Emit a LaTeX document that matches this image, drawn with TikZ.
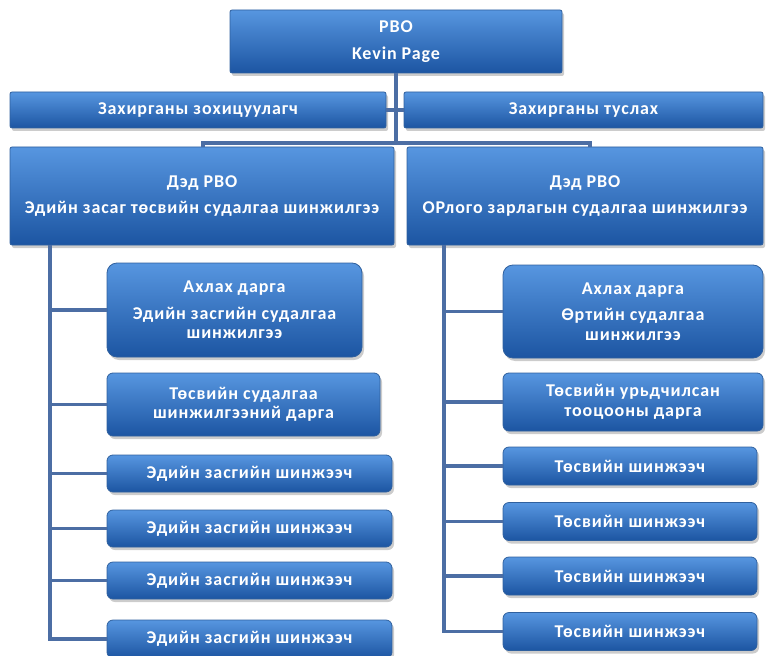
\documentclass[tikz,border=0pt]{standalone}
\usepackage{fontspec}
\setmainfont{Carlito}
\usetikzlibrary{shadows}
\definecolor{btop}{HTML}{5796E0}
\definecolor{bbot}{HTML}{1C55A2}
\definecolor{bdraw}{HTML}{2F609E}
\definecolor{connc}{HTML}{4C6EA4}
\begin{document}
\begin{tikzpicture}[x=1pt,y=-1pt,
  box/.style={draw=bdraw, line width=0.8pt, top color=btop, bottom color=bbot,
    text=white, font=\fontsize{18}{19.5}\selectfont\bfseries\addfontfeatures{LetterSpace=5},
    align=center, inner sep=0pt, rounded corners=2pt,
    drop shadow={shadow xshift=2pt, shadow yshift=-3pt, opacity=0.4}},
  cbox/.style={box, rounded corners=6pt},
  bigc/.style={box, rounded corners=10pt},
  conn/.style={draw=connc, line width=3.2pt}]
\useasboundingbox (0,0) rectangle (767,655);
% top
\node[box, minimum width=332pt, minimum height=63pt] (pbo) at (396,41.5) {PBO\\[7pt]Kevin Page};
\node[box, minimum width=376pt, minimum height=36pt] (adm1) at (198,110) {Захирганы зохицуулагч};
\node[box, minimum width=359pt, minimum height=36pt] (adm2) at (583.5,110) {Захирганы туслах};
\node[box, minimum width=384pt, minimum height=98pt] (ded1) at (202,196) {Дэд PBO\\[7pt]Эдийн засаг төсвийн судалгаа шинжилгээ};
\node[box, minimum width=356pt, minimum height=98pt] (ded2) at (585,196) {Дэд PBO\\[7pt]ОРлого зарлагын судалгаа шинжилгээ};
% left children
\node[bigc, minimum width=255pt, minimum height=94pt] (l1) at (234.5,310) {Ахлах дарга\\[7pt]Эдийн засгийн судалгаа\\шинжилгээ};
\node[cbox, minimum width=273pt, minimum height=63pt] (l2) at (243.5,404.5) {Төсвийн судалгаа\\шинжилгээний дарга};
\node[cbox, minimum width=285pt, minimum height=37pt] (l3) at (249.5,473.5) {Эдийн засгийн шинжээч};
\node[cbox, minimum width=285pt, minimum height=37pt] (l4) at (249.5,528.5) {Эдийн засгийн шинжээч};
\node[cbox, minimum width=285pt, minimum height=37pt] (l5) at (249.5,580.5) {Эдийн засгийн шинжээч};
\node[cbox, minimum width=285pt, minimum height=38pt] (l6) at (249.5,639) {Эдийн засгийн шинжээч};
% right children
\node[bigc, minimum width=260pt, minimum height=93pt] (r1) at (633,311.5) {Ахлах дарга\\[7pt]Өртийн судалгаа\\шинжилгээ};
\node[cbox, minimum width=260pt, minimum height=58pt] (r2) at (633,402) {Төсвийн урьдчилсан\\тооцооны дарга};
\node[cbox, minimum width=254pt, minimum height=38pt] (r3) at (630,466) {Төсвийн шинжээч};
\node[cbox, minimum width=254pt, minimum height=38pt] (r4) at (630,521.5) {Төсвийн шинжээч};
\node[cbox, minimum width=254pt, minimum height=38pt] (r5) at (630,576) {Төсвийн шинжээч};
\node[cbox, minimum width=254pt, minimum height=38pt] (r6) at (630,631.5) {Төсвийн шинжээч};
% connectors
\coordinate (b1) at (203,143);
\coordinate (b2) at (590,143);
\coordinate (lx) at (50,0);
\coordinate (rx) at (444,0);
\draw[conn] (pbo.south) -- (pbo.south |- b1);
\draw[conn] (adm1.east) -- (adm2.west);
\draw[conn, line join=miter] (b1 |- ded1.north) -- (b1) -- (b2) -- (b2 |- ded2.north);
\draw[conn, line join=miter] (lx |- ded1.south) |- (l6.west);
\foreach \n in {l1,l2,l3,l4,l5} \draw[conn] (lx |- \n.west) -- (\n.west);
\draw[conn, line join=miter] (rx |- ded2.south) |- (r6.west);
\foreach \n in {r1,r2,r3,r4,r5} \draw[conn] (rx |- \n.west) -- (\n.west);
\end{tikzpicture}
\end{document}
